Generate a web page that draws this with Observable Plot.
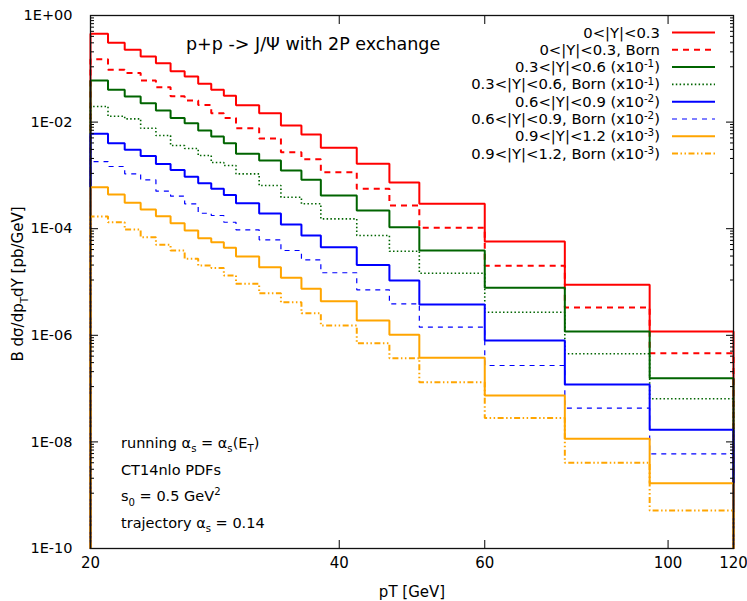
<!DOCTYPE html>
<html><head><meta charset="utf-8">
<script src="https://cdn.jsdelivr.net/npm/d3@7"></script>
<script src="https://cdn.jsdelivr.net/npm/@observablehq/plot@0.6"></script>
<style>
body{margin:0;background:#fff;}
#chart{width:747px;height:601px;}
</style></head><body><div id="chart"></div>
<script>
// ---- data ----
const binEdges = [20,21,22,23,24,25,26,27,28,29,30,32,34,36,38,42,46,50,60,75,95,120];

const redSolid    = [0.454,0.307,0.227,0.170,0.127,0.0902,0.0717,0.0523,0.0404,0.0311,0.0208,0.0147,0.00863,0.00585,0.00330,0.00165,7.36e-4,2.93e-4,5.75e-5,8.86e-6,1.18e-6];
const redBorn     = [0.151,0.0958,0.0834,0.0603,0.0452,0.0306,0.0254,0.0209,0.0147,0.0120,0.00768,0.00492,0.00272,0.00201,0.00115,5.61e-4,2.72e-4,1.04e-4,2.01e-5,3.32e-6,4.62e-7];
const greenSolid  = [0.0603,0.0404,0.0302,0.0226,0.0165,0.0120,0.00954,0.00696,0.00537,0.00402,0.00254,0.00190,0.00124,8.27e-4,4.20e-4,2.20e-4,1.07e-4,3.90e-5,7.78e-6,1.18e-6,1.57e-7];
const greenBorn   = [0.0196,0.0129,0.0115,0.00768,0.00561,0.00364,0.00320,0.00236,0.00175,0.00153,0.00107,6.46e-4,3.90e-4,2.93e-4,1.53e-4,7.46e-5,3.78e-5,1.46e-5,2.71e-6,4.50e-7,6.44e-8];
const blueSolid   = [0.00603,0.00402,0.00302,0.00231,0.00164,0.00126,9.41e-4,7.14e-4,5.61e-4,4.29e-4,3.01e-4,1.93e-4,1.20e-4,7.46e-5,4.50e-5,2.08e-5,1.07e-5,3.78e-6,7.99e-7,1.19e-7,1.69e-8];
const blueBorn    = [0.00182,0.00147,0.00107,8.27e-4,5.05e-4,4.07e-4,2.93e-4,1.95e-4,1.77e-4,1.32e-4,9.54e-5,6.19e-5,3.90e-5,2.61e-5,1.49e-5,7.14e-6,3.90e-6,1.42e-6,2.71e-7,4.29e-8,5.98e-9];
const orangeSolid = [6.01e-4,4.38e-4,3.06e-4,2.29e-4,1.72e-4,1.27e-4,9.25e-5,6.63e-5,5.58e-5,4.38e-5,3.01e-5,1.90e-5,1.20e-5,7.46e-6,4.36e-6,1.90e-6,1.02e-6,3.78e-7,7.42e-8,1.14e-8,1.68e-9];
const orangeBorn  = [1.69e-4,1.32e-4,9.66e-5,6.93e-5,4.99e-5,3.90e-5,2.72e-5,2.04e-5,1.83e-5,1.32e-5,9.25e-6,6.16e-6,4.18e-6,2.60e-6,1.53e-6,7.11e-7,3.72e-7,1.32e-7,2.81e-8,4.05e-9,5.16e-10];

const seriesLabels = [
  [["0<|Y|<0.3",""]],
  [["0<|Y|<0.3, Born",""]],
  [["0.3<|Y|<0.6 (x10",""],["-1","sup"],[")",""]],
  [["0.3<|Y|<0.6, Born (x10",""],["-1","sup"],[")",""]],
  [["0.6<|Y|<0.9 (x10",""],["-2","sup"],[")",""]],
  [["0.6<|Y|<0.9, Born (x10",""],["-2","sup"],[")",""]],
  [["0.9<|Y|<1.2 (x10",""],["-3","sup"],[")",""]],
  [["0.9<|Y|<1.2, Born (x10",""],["-3","sup"],[")",""]]
];

const yTickValues = [1,1e-2,1e-4,1e-6,1e-8,1e-10];
const yTickLabels = ["1E+00","1E-02","1E-04","1E-06","1E-08","1E-10"];
const xTickValues = [20,40,60,100,120];
const xTickLabels = ["20","40","60","100","120"];

const titleText = "p+p -> J/\u03A8 with 2P exchange";
const notes = [
  [["running \u03B1",""],["s","sub"],[" = \u03B1",""],["s","sub"],["(E",""],["T","sub"],[")",""]],
  [["CT14nlo PDFs",""]],
  [["s",""],["0","sub"],[" = 0.5 GeV",""],["2","sup"]],
  [["trajectory \u03B1",""],["s","sub"],[" = 0.14",""]]
];
const xLabel = "pT [GeV]";
const yLabelParts = [["B d\u03C3/dp",""],["T","sub"],["dY [pb/GeV]",""]];

// ---- styles ----
const styles = [
  {stroke:"#ff0000", strokeWidth:2, dash:null},
  {stroke:"#ff0000", strokeWidth:2, dash:"6,5"},
  {stroke:"#006400", strokeWidth:2, dash:null},
  {stroke:"#006400", strokeWidth:1.6, dash:"1.5,2.3"},
  {stroke:"#0000ff", strokeWidth:2, dash:null},
  {stroke:"#0000ff", strokeWidth:1.2, dash:"5,5"},
  {stroke:"#ffa500", strokeWidth:2, dash:null},
  {stroke:"#ffa500", strokeWidth:2, dash:"6,2.5,1.5,2.5,1.5,2.5"}
];
const seriesValues = [redSolid, redBorn, greenSolid, greenBorn, blueSolid, blueBorn, orangeSolid, orangeBorn];

const yMin = 1e-10, yMax = 1;
function stepData(vals) {
  const last = binEdges[binEdges.length - 1];
  const pts = [{x: binEdges[0], y: yMin}];
  vals.forEach((v, i) => pts.push({x: binEdges[i], y: v}));
  pts.push({x: last, y: vals[vals.length - 1]});
  pts.push({x: last, y: yMin});
  return pts;
}

// minor y ticks: gnuplot-style linear subdivisions between majors (factor 100)
const yMinor = [];
for (let e = -10; e < 0; e += 2) {
  const lo = Math.pow(10, e), hi = Math.pow(10, e + 2);
  for (let k = 1; k <= 9; k++) yMinor.push(lo + k * (hi - lo) / 10);
}
const xInner = [40, 60, 100];

const lineMarks = seriesValues.map((vals, i) => Plot.line(stepData(vals), {
  x: "x", y: "y", curve: "step-after",
  stroke: styles[i].stroke, strokeWidth: styles[i].strokeWidth,
  strokeDasharray: styles[i].dash, strokeLinejoin: "miter", strokeLinecap: "butt"
}));

const chart = Plot.plot({
  width: 747, height: 601,
  marginLeft: 90, marginRight: 14, marginTop: 15, marginBottom: 53,
  style: {fontFamily: "'DejaVu Sans', Verdana, sans-serif", fontSize: "14px", background: "#fff"},
  x: {type: "log", domain: [20, 120]},
  y: {type: "log", domain: [yMin, yMax]},
  marks: [
    ...lineMarks,
    Plot.axisY(yTickValues, {anchor: "left", tickSize: 0, tickPadding: 18, fontSize: 14.5,
      tickFormat: d => yTickLabels[yTickValues.indexOf(d)], label: null}),
    Plot.axisY(yTickValues, {anchor: "left", tickSize: -8, tickFormat: () => "", label: null}),
    Plot.axisY(yMinor, {anchor: "left", tickSize: -4, tickFormat: () => "", label: null}),
    Plot.axisY(yTickValues, {anchor: "right", tickSize: -8, tickFormat: () => "", label: null}),
    Plot.axisY(yMinor, {anchor: "right", tickSize: -4, tickFormat: () => "", label: null}),
    Plot.axisX(xTickValues, {anchor: "bottom", tickSize: 0, tickPadding: 9, fontSize: 15,
      tickFormat: d => xTickLabels[xTickValues.indexOf(d)], label: null}),
    Plot.axisX(xInner, {anchor: "bottom", tickSize: -8, tickFormat: () => "", label: null}),
    Plot.axisX(xInner, {anchor: "top", tickSize: -8, tickFormat: () => "", label: null}),
    Plot.frame({stroke: "#111", strokeWidth: 1.3})
  ]
});
document.getElementById("chart").appendChild(chart);

// ---- text overlays (rich text with sub/superscripts) ----
const svg = d3.select(chart);
function rich(sel, parts, size, supK = 0.42) {
  let shift = 0;
  parts.forEach(([t, mode]) => {
    const target = mode === "sup" ? -supK * size : mode === "sub" ? 0.3 * size : 0;
    const ts = sel.append("tspan").text(t).attr("dy", target - shift);
    if (mode) ts.attr("font-size", size * 0.7);
    shift = target;
  });
}
const fam = "'DejaVu Sans', Verdana, sans-serif";

// title
svg.append("text").attr("x", 186).attr("y", 50).attr("font-size", 17.5)
  .attr("font-family", fam).attr("text-anchor", "start").attr("fill", "#000").text(titleText);

// legend
const legTextX = 660, legLineX1 = 672, legLineX2 = 715, legY0 = 32.5, legDy = 17.3, legSize = 14.8;
seriesLabels.forEach((parts, i) => {
  const y = legY0 + i * legDy;
  const t = svg.append("text").attr("x", legTextX).attr("y", y + 5).attr("font-size", legSize)
    .attr("font-family", fam).attr("text-anchor", "end").attr("fill", "#000");
  rich(t, parts, legSize, 0.33);
  svg.append("line").attr("x1", legLineX1).attr("x2", legLineX2).attr("y1", y).attr("y2", y)
    .attr("stroke", styles[i].stroke).attr("stroke-width", styles[i].strokeWidth)
    .attr("stroke-dasharray", styles[i].dash);
});

// notes bottom-left
const noteSize = 14.5;
notes.forEach((parts, i) => {
  const t = svg.append("text").attr("x", 121).attr("y", 448 + i * 26.7).attr("font-size", noteSize)
    .attr("font-family", fam).attr("text-anchor", "start").attr("fill", "#000");
  rich(t, parts, noteSize);
});

// axis labels
svg.append("text").attr("x", 412).attr("y", 597).attr("font-size", 15).attr("font-family", fam)
  .attr("text-anchor", "middle").attr("fill", "#000").text(xLabel);
const yl = svg.append("text").attr("transform", "translate(23,284) rotate(-90)")
  .attr("font-size", 15).attr("font-family", fam).attr("text-anchor", "middle").attr("fill", "#000");
rich(yl, yLabelParts, 15);
</script>
</body></html>
